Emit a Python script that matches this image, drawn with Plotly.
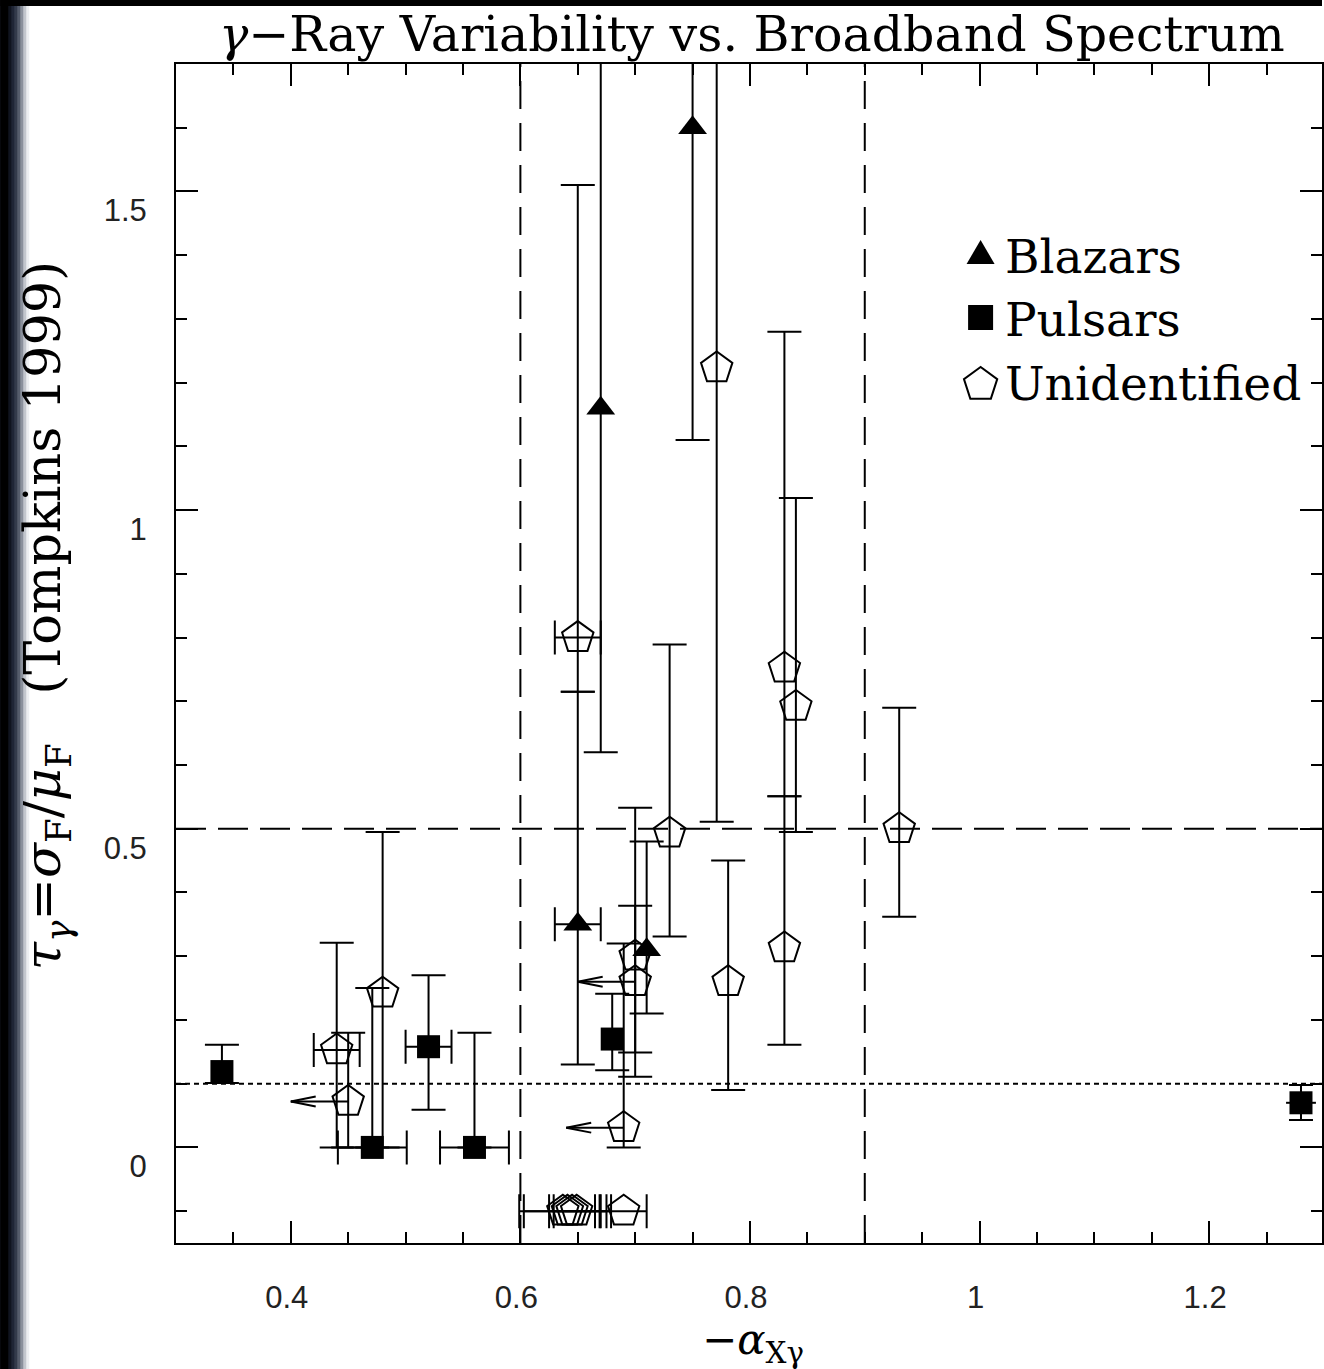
import math
import plotly.graph_objects as go

# ---------------- data ----------------
# Blazars (filled triangles)
blz_x = [0.75, 0.67, 0.65, 0.71]
blz_y = [1.60, 1.16, 0.35, 0.31]
blz_lo = [1.11, 0.62, 0.13, 0.21]
blz_hi = [2.09, 1.75, 0.715, 0.48]
blz_xerr = [0, 0, 0.02, 0]

# Pulsars (filled squares)
psr_x = [0.34, 0.471, 0.52, 0.56, 0.68, 1.28]
psr_y = [0.119, 0.0, 0.158, 0.0, 0.170, 0.070]
psr_lo = [0.101, 0.0, 0.059, 0.0, 0.121, 0.043]
psr_hi = [0.161, 0.25, 0.27, 0.18, 0.241, 0.098]
psr_xerr = [0, 0.03, 0.02, 0.03, 0, 0.013]

# Unidentified (open pentagons)
unid_x = [0.44, 0.45, 0.48, 0.65, 0.771, 0.73, 0.83, 0.83, 0.84, 0.781,
          0.93, 0.69, 0.70, 0.70, 0.637, 0.641, 0.645, 0.649, 0.69]
unid_y = [0.153, 0.072, 0.242, 0.80, 1.223, 0.493, 0.752, 0.313, 0.692, 0.26,
          0.50, 0.031, 0.26, 0.30, -0.1, -0.1, -0.1, -0.1, -0.1]
unid_lo = [0.0, 0.0, 0.0, 0.715, 0.511, 0.331, 0.551, 0.161, 0.495, 0.09,
           0.362, 0.0, 0.111, 0.149, -0.1, -0.1, -0.1, -0.1, -0.1]
unid_hi = [0.321, 0.18, 0.495, 1.51, 1.93, 0.789, 1.28, 0.551, 1.019, 0.45,
           0.69, 0.32, 0.533, 0.379, -0.1, -0.1, -0.1, -0.1, -0.1]
unid_xerr = [0.02, 0, 0, 0.02, 0, 0, 0, 0, 0, 0,
             0, 0, 0, 0, 0.038, 0.038, 0.02, 0.02, 0.02]
unid_xlim = [False, True, False, False, False, False, False, False, False, False,
             False, True, True, False, False, False, False, False, False]

# reference lines
vline_dash = [0.6, 0.9]
hline_dash = [0.5]
hline_dot = [0.1]

x_range = [0.3, 1.2983]
y_range = [-0.15, 1.7]

legend_names = ["Blazars", "Pulsars", "Unidentified"]

# ---------------- layout geometry ----------------
W, H = 1324, 1369
ML, MR, MT, MB = 176, 0, 64, 126
PW = W - ML - MR
PH = H - MT - MB


def px_x(px):
    return (px - ML) / PW


def px_y(py):
    return (H - MB - py) / PH


fig = go.Figure()


def add_series(xs, ys, lo, hi, xerr, symbol, size, open_=False, nocap=()):
    groups = {}
    for i in range(len(xs)):
        key = (xerr[i] > 0, (hi[i] - lo[i]) > 0, i in nocap)
        groups.setdefault(key, []).append(i)
    for (hx, hy, nc), idx in groups.items():
        marker = dict(symbol=symbol, size=size, color="black")
        if open_:
            marker["line"] = dict(color="black", width=2)
        tr = go.Scatter(x=[xs[i] for i in idx], y=[ys[i] for i in idx],
                        mode="markers", marker=marker, showlegend=False,
                        hoverinfo="skip")
        if hy:
            tr.error_y = dict(type="data", symmetric=False,
                              array=[hi[i] - ys[i] for i in idx],
                              arrayminus=[ys[i] - lo[i] for i in idx],
                              color="black", thickness=2, width=12 if nc else 17)
        if hx:
            tr.error_x = dict(type="data", array=[xerr[i] for i in idx],
                              color="black", thickness=2, width=0 if nc else 17)
        fig.add_trace(tr)


add_series(unid_x, unid_y, unid_lo, unid_hi, unid_xerr, "pentagon-open", 33, open_=True)
add_series(psr_x, psr_y, psr_lo, psr_hi, psr_xerr, "square", 23, nocap=(5,))
add_series(blz_x, blz_y, blz_lo, blz_hi, blz_xerr, "triangle-up", 25)

shapes = []
# background decoration (dark strip on the left, band on top) - nested, no gaps
strip = [(29, "#eceef1"), (26, "#c2c6cd"), (23, "#8a909c"), (20, "#555c6b"),
         (17, "#333a4a"), (14, "#1f2535"), (11, "#10141f"), (8, "#000000")]
for b, c in strip:
    shapes.append(dict(type="rect", xref="paper", yref="paper",
                       x0=px_x(0), x1=px_x(b), y0=px_y(H), y1=px_y(0),
                       fillcolor=c, line=dict(width=0), layer="below"))
shapes.append(dict(type="rect", xref="paper", yref="paper",
                   x0=px_x(0), x1=px_x(W), y0=px_y(6), y1=px_y(0),
                   fillcolor="#000000", line=dict(width=0), layer="below"))

for xv in vline_dash:
    shapes.append(dict(type="line", xref="x", yref="paper", x0=xv, x1=xv, y0=0, y1=1,
                       line=dict(color="black", width=2, dash="28px,14px"), layer="below"))
for yv in hline_dash:
    shapes.append(dict(type="line", xref="paper", yref="y", x0=0, x1=1, y0=yv, y1=yv,
                       line=dict(color="black", width=2, dash="30px,12px"), layer="below"))
for yv in hline_dot:
    shapes.append(dict(type="line", xref="paper", yref="y", x0=0, x1=1, y0=yv, y1=yv,
                       line=dict(color="black", width=2, dash="5px,4px"), layer="below"))

# upper-limit arrows (pointing to lower alpha)
ARROW_LEN = 0.05
HEAD_DX = 0.0217
HEAD_DY = 0.0078
for xv, yv, lim in zip(unid_x, unid_y, unid_xlim):
    if not lim:
        continue
    tip = xv - ARROW_LEN
    for (x0, y0, x1, y1) in [(xv, yv, tip, yv),
                             (tip, yv, tip + HEAD_DX, yv + HEAD_DY),
                             (tip, yv, tip + HEAD_DX, yv - HEAD_DY)]:
        shapes.append(dict(type="line", xref="x", yref="y", x0=x0, y0=y0, x1=x1, y1=y1,
                           line=dict(color="black", width=2)))

# legend keys (pixel-sized paths)
R = 17.5
pent = []
for k in range(5):
    ang = math.radians(90 + 72 * k)
    pent.append((R * math.cos(ang), R * math.sin(ang) - 1.5))
pent_path = "M" + " L".join(f"{a:.2f},{b:.2f}" for a, b in pent) + " Z"
keys = [
    ("M-14,-8 L14,-8 L0,16 Z", 256, "black", 0),
    ("M-12.5,-12.5 H12.5 V12.5 H-12.5 Z", 317.5, "black", 0),
    (pent_path, 383, "rgba(0,0,0,0)", 2),
]
for path, cy, fill, lw in keys:
    shapes.append(dict(type="path", xref="paper", yref="paper",
                       xsizemode="pixel", ysizemode="pixel",
                       xanchor=px_x(982), yanchor=px_y(cy), path=path,
                       fillcolor=fill, line=dict(color="black", width=lw)))

annotations = []
serif = "DejaVu Serif"
for name, cy in zip(legend_names, [256.4, 319.5, 383.5]):
    annotations.append(dict(text=name, xref="paper", yref="paper",
                            x=px_x(1004), y=px_y(cy), xanchor="left", yanchor="middle",
                            showarrow=False, font=dict(family=serif, size=47, color="black")))

# title
annotations.append(dict(text="<i>γ</i>−Ray Variability vs. Broadband Spectrum",
                        xref="paper", yref="paper", x=px_x(753), y=1.0,
                        xanchor="center", yanchor="bottom", yshift=-1, showarrow=False,
                        font=dict(family=serif, size=49, color="black")))
# x title
annotations.append(dict(text="−<i>α</i><sub>Xγ</sub>",
                        xref="paper", yref="paper", x=px_x(754), y=px_y(1342),
                        xanchor="center", yanchor="middle", showarrow=False,
                        font=dict(family=serif, size=42, color="black")))
# y title
annotations.append(dict(text="<i>τ</i><sub><i>γ</i></sub>=<i>σ</i><sub>F</sub>/<i>μ</i><sub>F</sub>"
                             "\u00a0\u00a0\u00a0(Tompkins 1999)",
                        xref="paper", yref="paper", x=px_x(46), y=px_y(616),
                        xanchor="center", yanchor="middle", textangle=-90, showarrow=False,
                        font=dict(family=serif, size=51, color="black")))

axis_common = dict(showgrid=False, zeroline=False, showline=True, linewidth=2,
                   linecolor="black", mirror="ticks", ticks="inside", ticklen=22,
                   tickwidth=2, tickcolor="black",
                   tickfont=dict(family="Liberation Sans, Arial, sans-serif", size=31,
                                 color="#222222"))

fig.update_layout(
    width=W, height=H,
    margin=dict(l=ML, r=MR, t=MT, b=MB),
    paper_bgcolor="white", plot_bgcolor="white",
    showlegend=False,
    shapes=shapes, annotations=annotations,
    xaxis=dict(range=x_range, tick0=0, dtick=0.2,
               minor=dict(dtick=0.05, ticklen=11, tickwidth=2, ticks="inside",
                          tickcolor="black"),
               ticklabelstandoff=26, ticklabelshift=-4, **axis_common),
    yaxis=dict(range=y_range, tick0=0, dtick=0.5,
               minor=dict(dtick=0.1, ticklen=11, tickwidth=2, ticks="inside",
                          tickcolor="black"),
               ticklabelstandoff=21, ticklabelshift=19, **axis_common),
)

fig.write_html("out.html")
